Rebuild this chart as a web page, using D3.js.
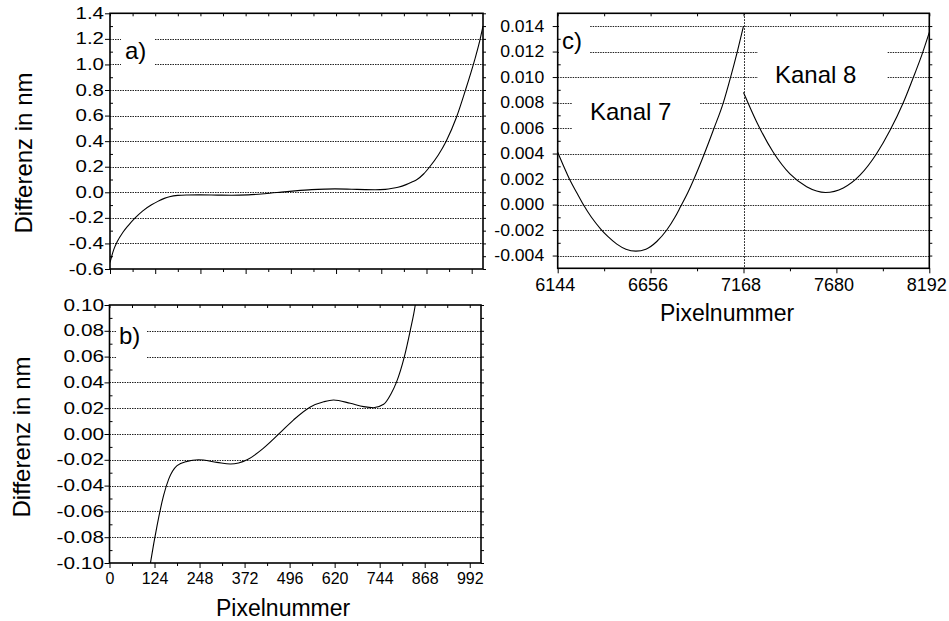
<!DOCTYPE html>
<html><head><meta charset="utf-8">
<script src="https://cdn.jsdelivr.net/npm/d3@7"></script>
<style>
body{margin:0;background:#fff;}
svg{display:block;font-family:Arial,"Liberation Sans",Helvetica,sans-serif;}
</style>
</head><body>
<svg id="chart" width="949" height="621"></svg>
<script>
// ---------- data ----------
// panels a) and b): same difference curve over pixel 0..1023
const pixelAB = [0, 10, 20, 35, 50, 69, 90, 114, 131, 149, 163, 186, 213, 245, 296, 333, 379, 424, 470, 507, 553, 590, 617, 663, 700, 727, 755, 775, 790, 812, 828, 842, 860, 877, 900, 922, 950, 975, 1000, 1012, 1023];
const diffAB  = [-0.55, -0.45, -0.385, -0.315, -0.26, -0.20, -0.145, -0.098, -0.071, -0.0476, -0.035, -0.0245, -0.0212, -0.020, -0.022, -0.0233, -0.020, -0.011, 0.001, 0.011, 0.021, 0.025, 0.0264, 0.0238, 0.0212, 0.0204, 0.023, 0.031, 0.040, 0.060, 0.080, 0.100, 0.143, 0.200, 0.290, 0.400, 0.585, 0.800, 1.034, 1.160, 1.300];
// panel c): Kanal 7 and Kanal 8
const pixelK7 = [6144, 6180, 6212, 6250, 6285, 6330, 6380, 6420, 6470, 6520, 6575, 6630, 6690, 6745, 6790, 6820, 6860, 6895, 6950, 7006, 7057, 7097, 7134, 7168];
const diffK7  = [0.0041, 0.0029, 0.0019, 0.0009, 0.0000, -0.0010, -0.0019, -0.0025, -0.0031, -0.0035, -0.00365, -0.0035, -0.0029, -0.0020, -0.0010, -0.0002, 0.0009, 0.0020, 0.0039, 0.0060, 0.0080, 0.0100, 0.0120, 0.0140];
const pixelK8 = [7168, 7240, 7332, 7424, 7516, 7620, 7718, 7810, 7902, 7975, 8049, 8113, 8150, 8192];
const diffK8  = [0.0088, 0.0065, 0.0041, 0.0024, 0.0014, 0.00095, 0.0013, 0.0023, 0.0040, 0.0058, 0.0080, 0.0103, 0.0117, 0.0135];

// tick labels
const yLabelsA = ["-0.6","-0.4","-0.2","0.0","0.2","0.4","0.6","0.8","1.0","1.2","1.4"];
const yLabelsB = ["-0.10","-0.08","-0.06","-0.04","-0.02","0.00","0.02","0.04","0.06","0.08","0.10"];
const yLabelsC = ["-0.004","-0.002","0.000","0.002","0.004","0.006","0.008","0.010","0.012","0.014"];
const xLabelsAB = ["0","124","248","372","496","620","744","868","992"];
const xLabelsC = ["6144","6656","7168","7680","8192"];
const domainAB = [0, 1023];
const domainC = [6144, 8192];
const yDomainA = [-0.6, 1.4];
const yDomainB = [-0.1, 0.1];
const yDomainC = [-0.005, 0.015];

// ---------- drawing ----------
const svg = d3.select("#chart");
const FONT = 'Arial,"Liberation Sans",Helvetica,sans-serif';

function stretch(sel, sx){
  sel.each(function(){
    const w = this.getComputedTextLength();
    d3.select(this).attr("textLength", w*sx).attr("lengthAdjust","spacingAndGlyphs");
  });
}

function panel(cfg){
  const x = d3.scaleLinear().domain(cfg.xDomain).range([cfg.l, cfg.r]);
  const y = d3.scaleLinear().domain(cfg.yDomain).range([cfg.b, cfg.t]);
  const g = svg.append("g");
  const yMajor = cfg.yLabels.map(Number);
  const xMajor = cfg.xLabels.map(Number);
  const mid = arr => arr.slice(1).map((v,i)=>(v+arr[i])/2);
  let yMinor = mid(yMajor);
  if (cfg.yEdgeMinor) yMinor = yMinor.concat(cfg.yEdgeMinor);
  let xMinor = mid(xMajor);
  yMinor = yMinor.filter(v => v >= cfg.yDomain[0] && v <= cfg.yDomain[1]);
  xMinor = xMinor.filter(v => v >= cfg.xDomain[0] && v <= cfg.xDomain[1]);

  // grid lines
  g.append("g").selectAll("line")
    .data(yMajor.filter(v => y(v) > cfg.t + 1 && y(v) < cfg.b - 1))
    .join("line")
    .attr("x1", cfg.l).attr("x2", cfg.r)
    .attr("y1", d => Math.round(y(d)) + 0.5).attr("y2", d => Math.round(y(d)) + 0.5)
    .attr("stroke", "#222").attr("stroke-width", 1).attr("stroke-dasharray", "1.5,1");

  (cfg.vLines || []).forEach(v => {
    const xv = Math.round(x(v)) + 0.5;
    g.append("line").attr("x1", xv).attr("x2", xv).attr("y1", cfg.t).attr("y2", cfg.b)
      .attr("stroke", "#000").attr("stroke-width", 1).attr("stroke-dasharray", "1.5,1.5");
  });

  // label boxes
  (cfg.notes || []).forEach(n => {
    g.append("rect").attr("x", n.bx).attr("y", n.by).attr("width", n.bw).attr("height", n.bh).attr("fill", "#fff");
    g.append("text").attr("x", n.x).attr("y", n.y).attr("font-size", n.size).attr("font-family", FONT)
      .attr("fill", "#000").text(n.text);
  });

  // curves
  const id = "clip-" + cfg.name;
  svg.append("clipPath").attr("id", id).append("rect")
    .attr("x", cfg.l).attr("y", cfg.t).attr("width", cfg.r - cfg.l).attr("height", cfg.b - cfg.t);
  const line = d3.line().x(d => x(d[0])).y(d => y(d[1])).curve(d3.curveMonotoneX);
  cfg.series.forEach(s => {
    g.append("path").datum(d3.zip(s.x, s.y))
      .attr("clip-path", `url(#${id})`)
      .attr("fill", "none").attr("stroke", "#000").attr("stroke-width", 1.1).attr("d", line);
  });

  const styleAxis = a => { a.select(".domain").remove(); a.attr("font-family", FONT).attr("color", "#000"); };

  // left axis
  const left = g.append("g").attr("transform", `translate(${cfg.l},0)`)
    .call(d3.axisLeft(y).tickValues(yMajor).tickFormat((d,i) => cfg.yLabels[i])
      .tickSizeInner(5).tickSizeOuter(0).tickPadding(cfg.yPad))
    .call(styleAxis).attr("font-size", cfg.yFont);
  stretch(left.selectAll("text"), cfg.yStretch);
  g.append("g").attr("transform", `translate(${cfg.l},0)`)
    .call(d3.axisLeft(y).tickValues(yMinor).tickFormat("").tickSizeInner(-3).tickSizeOuter(0))
    .call(styleAxis);
  // right axis
  g.append("g").attr("transform", `translate(${cfg.r},0)`)
    .call(d3.axisRight(y).tickValues(yMajor.concat(yMinor)).tickFormat("").tickSizeInner(3).tickSizeOuter(0))
    .call(styleAxis);
  // bottom axis
  const bottom = g.append("g").attr("transform", `translate(0,${cfg.b})`)
    .call(d3.axisBottom(x).tickValues(xMajor).tickFormat((d,i) => cfg.showX ? cfg.xLabels[i] : "")
      .tickSizeInner(5).tickSizeOuter(0).tickPadding(5))
    .call(styleAxis).attr("font-size", cfg.xFont);
  if (cfg.xShift) bottom.selectAll("text").attr("x", cfg.xShift);
  g.append("g").attr("transform", `translate(0,${cfg.b})`)
    .call(d3.axisBottom(x).tickValues(xMinor).tickFormat("").tickSizeInner(3).tickSizeOuter(0))
    .call(styleAxis);
  // top axis
  g.append("g").attr("transform", `translate(0,${cfg.t})`)
    .call(d3.axisTop(x).tickValues(xMajor.concat(xMinor)).tickFormat("").tickSizeInner(-3).tickSizeOuter(0))
    .call(styleAxis);

  // frame
  g.append("rect").attr("x", cfg.l).attr("y", cfg.t).attr("width", cfg.r - cfg.l).attr("height", cfg.b - cfg.t)
    .attr("fill", "none").attr("stroke", "#000").attr("stroke-width", 1.6);

  // titles
  if (cfg.yTitle) {
    g.append("text").attr("transform", `translate(${cfg.yTitle.x},${cfg.yTitle.y}) rotate(-90)`)
      .attr("text-anchor", "middle").attr("font-size", 24).attr("font-family", FONT).text(cfg.yTitle.text);
  }
  if (cfg.xTitle) {
    g.append("text").attr("x", cfg.xTitle.x).attr("y", cfg.xTitle.y)
      .attr("font-size", 23).attr("font-family", FONT).text(cfg.xTitle.text);
  }
}

panel({
  name: "a", l: 110, r: 483, t: 13.3, b: 269,
  xDomain: domainAB, yDomain: yDomainA,
  yLabels: yLabelsA, xLabels: xLabelsAB, showX: false,
  yFont: 16, yStretch: 1.28, yPad: 1, xFont: 16,
  series: [{x: pixelAB, y: diffAB}],
  notes: [{text: "a)", x: 125, y: 59, size: 24, bx: 121, by: 30, bw: 33, bh: 42}],
  yTitle: {text: "Differenz in nm", x: 32, y: 153}
});

panel({
  name: "b", l: 109.5, r: 481, t: 305, b: 563,
  xDomain: domainAB, yDomain: yDomainB,
  yLabels: yLabelsB, xLabels: xLabelsAB, showX: true,
  yFont: 16, yStretch: 1.3, yPad: 0.5, xFont: 16,
  series: [{x: pixelAB, y: diffAB}],
  notes: [{text: "b)", x: 119, y: 344, size: 24, bx: 117, by: 320, bw: 30, bh: 44}],
  yTitle: {text: "Differenz in nm", x: 30, y: 437},
  xTitle: {text: "Pixelnummer", x: 216, y: 616}
});

panel({
  name: "c", l: 557.7, r: 929.3, t: 13.3, b: 268.3,
  xDomain: domainC, yDomain: yDomainC,
  yLabels: yLabelsC, xLabels: xLabelsC, showX: true,
  yFont: 16, yStretch: 1.1, yPad: 8.5, xFont: 18, xShift: -3,
  series: [{x: pixelK7, y: diffK7}, {x: pixelK8, y: diffK8}],
  vLines: [7168],
  notes: [
    {text: "c)", x: 562, y: 49, size: 24, bx: 559, by: 15, bw: 31, bh: 46},
    {text: "Kanal 7", x: 590, y: 120, size: 24, bx: 572, by: 94, bw: 128, bh: 42},
    {text: "Kanal 8", x: 775, y: 83, size: 24, bx: 758, by: 44, bw: 129, bh: 42}
  ],
  xTitle: {text: "Pixelnummer", x: 660, y: 321}
});
</script>
</body></html>
